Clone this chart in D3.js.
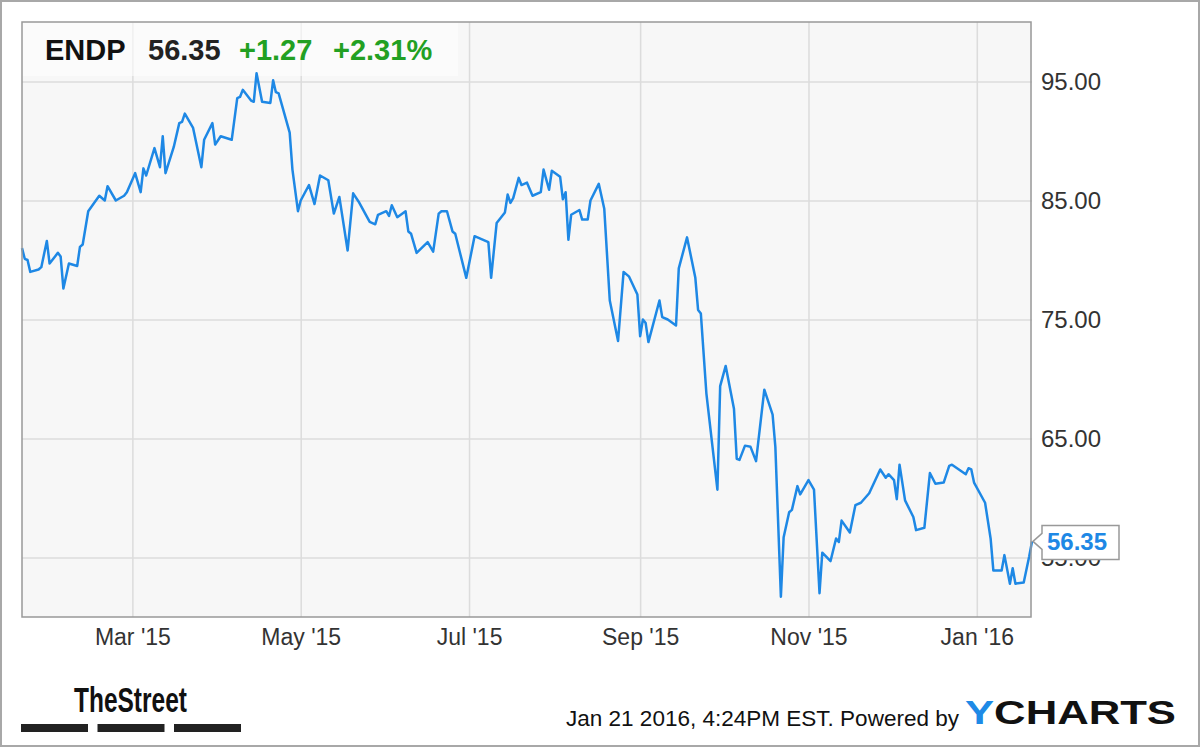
<!DOCTYPE html>
<head>
<meta charset="UTF-8">
<title>ENDP price chart</title>
<script type="text/javascript" src="https://cdnjs.cloudflare.com/ajax/libs/d3/7.8.5/d3.min.js"></script>
<style>
body
{
margin:0;
background:#fff;
}
text
{
font-family:"Liberation Sans", Arial, sans-serif;
}
.grid line
{
stroke:#dcdcdc;
stroke-width:1.5;
}
.grid path
{
display:none;
}
.yaxis text, .xaxis text
{
fill:#333;
}
</style>
</head>
<body>
<div id="chart"></div>

<script type="text/javascript">
var dates=["2015-01-20","2015-01-21","2015-01-22","2015-01-23","2015-01-26","2015-01-27","2015-01-29","2015-01-30",
"2015-02-02","2015-02-03","2015-02-04","2015-02-06","2015-02-09","2015-02-10","2015-02-11","2015-02-13","2015-02-17",
"2015-02-19","2015-02-20","2015-02-23","2015-02-26","2015-02-27","2015-03-02","2015-03-04","2015-03-05","2015-03-06",
"2015-03-09","2015-03-11","2015-03-12","2015-03-13","2015-03-16","2015-03-18","2015-03-19","2015-03-20","2015-03-23",
"2015-03-26","2015-03-27","2015-03-30","2015-03-31","2015-04-02","2015-04-06","2015-04-08","2015-04-09","2015-04-10",
"2015-04-13","2015-04-14","2015-04-15","2015-04-17","2015-04-20","2015-04-21","2015-04-22","2015-04-23","2015-04-27",
"2015-04-28","2015-04-30","2015-05-01","2015-05-04","2015-05-06","2015-05-08","2015-05-11","2015-05-13","2015-05-15",
"2015-05-18","2015-05-20","2015-05-22","2015-05-26","2015-05-28","2015-05-29","2015-06-01","2015-06-02","2015-06-03",
"2015-06-05","2015-06-08","2015-06-09","2015-06-10","2015-06-12","2015-06-16","2015-06-18","2015-06-20","2015-06-21",
"2015-06-23","2015-06-25","2015-06-26","2015-06-30","2015-07-03","2015-07-08","2015-07-09","2015-07-11","2015-07-14",
"2015-07-15","2015-07-16","2015-07-17","2015-07-19","2015-07-20","2015-07-22","2015-07-24","2015-07-27","2015-07-28",
"2015-07-30","2015-07-31","2015-08-03","2015-08-04","2015-08-05","2015-08-06","2015-08-07","2015-08-10","2015-08-11",
"2015-08-13","2015-08-14","2015-08-17","2015-08-19","2015-08-21","2015-08-24","2015-08-26","2015-08-28","2015-08-31",
"2015-09-01","2015-09-02","2015-09-03","2015-09-04","2015-09-08","2015-09-09","2015-09-11","2015-09-14","2015-09-15",
"2015-09-18","2015-09-21","2015-09-22","2015-09-23","2015-09-25","2015-09-29","2015-09-30","2015-10-02","2015-10-05",
"2015-10-06","2015-10-07","2015-10-09","2015-10-11","2015-10-13","2015-10-16","2015-10-19","2015-10-20","2015-10-22",
"2015-10-23","2015-10-25","2015-10-26","2015-10-28","2015-10-29","2015-11-01","2015-11-03","2015-11-05","2015-11-06",
"2015-11-09","2015-11-11","2015-11-12","2015-11-13","2015-11-16","2015-11-18","2015-11-20","2015-11-23","2015-11-27",
"2015-11-29","2015-11-30","2015-12-02","2015-12-03","2015-12-04","2015-12-06","2015-12-09","2015-12-10","2015-12-13",
"2015-12-15","2015-12-17","2015-12-20","2015-12-22","2015-12-23","2015-12-28","2015-12-29","2015-12-30","2015-12-31",
"2016-01-04","2016-01-06","2016-01-07","2016-01-10","2016-01-11","2016-01-13","2016-01-14","2016-01-15","2016-01-18",
"2016-01-20","2016-01-21"];

var prices=[81.0,80.1,80.0,79.0,79.2,79.4,81.6,79.7,
80.6,80.3,77.6,79.7,79.5,81.1,81.3,84.1,85.4,
85.0,86.2,85.0,85.4,85.7,87.3,85.7,87.7,87.1,
89.4,87.8,90.4,87.3,89.5,91.5,91.6,92.3,91.1,
87.8,90.1,91.5,89.7,90.4,90.1,93.6,93.7,94.3,
93.4,93.3,95.7,93.3,93.2,95.1,94.1,94.0,90.7,
87.6,84.1,85.0,86.3,84.7,87.1,86.7,83.9,85.3,
80.8,85.6,84.9,83.2,83.0,83.8,84.1,83.7,84.6,
83.6,84.1,82.4,82.2,80.6,81.5,80.7,83.9,84.1,
84.1,82.4,82.2,78.5,82.0,81.5,78.5,83.1,84.0,
85.5,84.8,85.2,86.9,86.3,86.5,85.4,85.7,87.6,
85.9,87.5,87.0,85.1,85.7,81.7,83.8,84.2,83.4,
83.4,85.0,86.4,84.3,76.6,73.2,79.0,78.6,77.1,
73.6,75.0,74.7,73.1,76.6,75.2,75.0,74.5,79.3,
81.9,78.5,75.8,75.5,68.8,60.7,69.4,71.1,67.5,
63.3,63.2,64.4,64.3,63.1,69.1,67.0,64.3,51.7,
56.7,58.8,59.0,61.0,60.3,61.5,60.7,52.0,55.4,
54.7,56.6,56.3,58.1,57.1,59.4,59.6,60.4,62.4,
61.7,62.0,61.5,59.9,62.8,59.8,58.4,57.3,57.5,
62.1,61.2,61.3,62.7,62.8,62.0,62.5,62.4,61.3,
59.6,56.6,53.9,53.9,55.2,52.8,54.1,52.8,52.9,
55.1,56.35];

var yTicks=[55,65,75,85,95];
var xTicks=["2015-03-01","2015-05-01","2015-07-01","2015-09-01","2015-11-01","2016-01-01"];
var ticker="ENDP", lastPrice="56.35", change="+1.27", changePct="+2.31%";
var stamp="Jan 21 2016, 4:24PM EST. Powered by";

var width=1200, height=747;
var plotL=22, plotR=1032, plotT=22, plotB=617;
var blue="#1e88e5", green="#22a022";
var parse=d3.timeParse("%Y-%m-%d");

var data=dates.map(function(d,i){return {date:parse(d),price:prices[i]};});

var svg=d3.select("#chart").append("svg").attr("width",width).attr("height",height);

svg.append("rect").attr("x",1).attr("y",1).attr("width",width-2).attr("height",height-2)
  .attr("fill","#fff").attr("stroke","#a8a8a8").attr("stroke-width",2);

var x=d3.scaleTime().domain([parse("2015-01-20"),parse("2016-01-21")]).range([plotL,plotR]);
var y=d3.scaleLinear().domain([50,100]).range([plotB,plotT]);

svg.append("rect").attr("x",plotL).attr("y",plotT).attr("width",plotR-plotL).attr("height",plotB-plotT)
  .attr("fill","#f7f7f7");

// gridlines
svg.append("g").attr("class","grid").attr("transform","translate("+plotL+",0)")
  .call(d3.axisLeft(y).tickValues(yTicks).tickSize(-(plotR-plotL)).tickFormat(""));
svg.append("g").attr("class","grid").attr("transform","translate(0,"+plotB+")")
  .call(d3.axisBottom(x).tickValues(xTicks.map(parse)).tickSize(-(plotB-plotT)).tickFormat(""));

// header strip
svg.append("rect").attr("x",plotL).attr("y",plotT).attr("width",436).attr("height",54)
  .attr("fill","#fff").attr("opacity",0.55);

var head=svg.append("g").attr("font-size","29px").attr("font-weight","bold");
head.append("text").attr("x",45).attr("y",60).attr("fill","#111").text(ticker);
head.append("text").attr("x",148).attr("y",60).attr("fill","#222").text(lastPrice);
head.append("text").attr("x",239).attr("y",60).attr("fill",green).text(change);
head.append("text").attr("x",333).attr("y",60).attr("fill",green).text(changePct);

var line=d3.line().x(function(d){return x(d.date);}).y(function(d){return y(d.price);});
svg.append("path").datum(data).attr("d",line)
  .attr("fill","none").attr("stroke",blue).attr("stroke-width",2.5).attr("stroke-linejoin","round");

svg.append("rect").attr("x",plotL).attr("y",plotT).attr("width",plotR-plotL-1).attr("height",plotB-plotT)
  .attr("fill","none").attr("stroke","#999").attr("stroke-width",1.5);

// axes
var ya=svg.append("g").attr("class","yaxis").attr("transform","translate("+plotR+",0)")
  .call(d3.axisRight(y).tickValues(yTicks).tickSize(0).tickPadding(9).tickFormat(d3.format(".2f")));
ya.select(".domain").remove();
ya.selectAll("text").attr("font-size","24px").attr("font-family","\"Liberation Sans\", Arial, sans-serif");

var xa=svg.append("g").attr("class","xaxis").attr("transform","translate(0,"+plotB+")")
  .call(d3.axisBottom(x).tickValues(xTicks.map(parse)).tickSize(0).tickPadding(12).tickFormat(d3.timeFormat("%b '%y")));
xa.select(".domain").remove();
xa.selectAll("text").attr("font-size","23px").attr("font-family","\"Liberation Sans\", Arial, sans-serif");

// last price flag
var last=data[data.length-1];
var fy=y(last.price), fx=x(last.date);
svg.append("path")
  .attr("d","M"+(fx+1)+","+fy+" L"+(fx+10)+","+(fy-8)+" L"+(fx+10)+","+(fy-16)+" L"+(fx+87)+","+(fy-16)
    +" L"+(fx+87)+","+(fy+18)+" L"+(fx+10)+","+(fy+18)+" L"+(fx+10)+","+(fy+8)+" Z")
  .attr("fill","#fff").attr("stroke","#999").attr("stroke-width",1.5);
svg.append("text").attr("x",fx+15).attr("y",fy+9).attr("font-size","24px").attr("font-weight","bold")
  .attr("fill",blue).text(lastPrice);

// footer
svg.append("text").attr("x",0).attr("y",0).attr("transform","translate(74,712) scale(0.7,1)")
  .attr("font-size","35px").attr("font-weight","bold").attr("fill","#111").text("TheStreet");
svg.selectAll(".bar").data([0,1,2]).enter().append("rect")
  .attr("x",function(d){return 21+d*76.5;}).attr("y",724).attr("width",67).attr("height",8).attr("fill","#222");

svg.append("text").attr("x",566).attr("y",726).attr("font-size","22px").attr("fill","#111")
  .attr("textLength",393).attr("lengthAdjust","spacingAndGlyphs").text(stamp);
var yc=svg.append("text").attr("x",965).attr("y",724).attr("font-size","34px").attr("font-weight","bold")
  .attr("textLength",211).attr("lengthAdjust","spacingAndGlyphs");
yc.append("tspan").attr("fill","#1e8ae6").text("Y");
yc.append("tspan").attr("fill","#111").text("CHARTS");
</script>
</body>
</html>
